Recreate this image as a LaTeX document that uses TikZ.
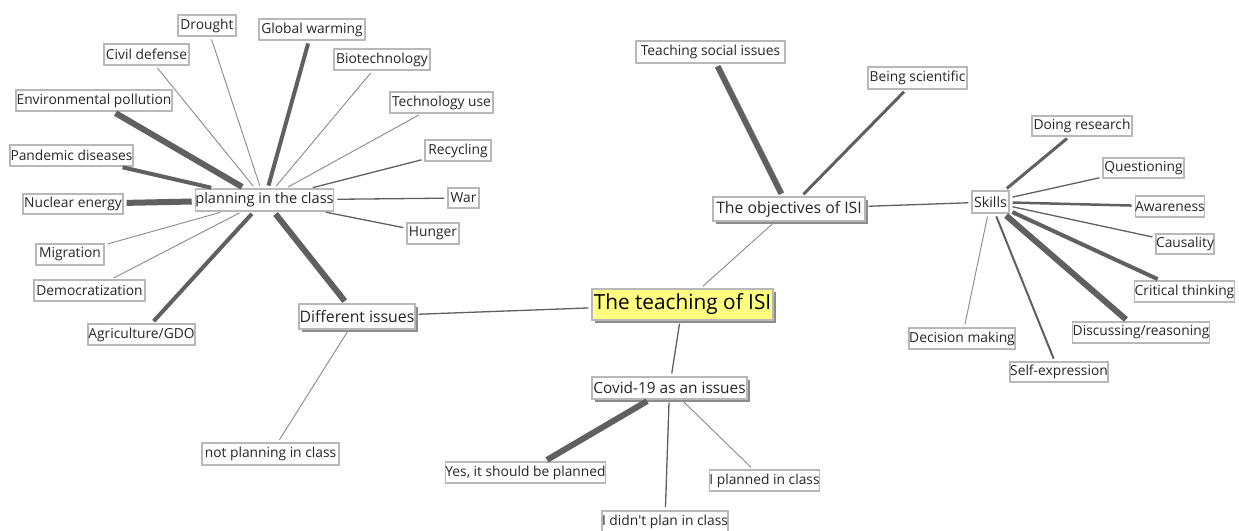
\documentclass[tikz,border=0pt]{standalone}
\usepackage{fontspec}
\setmainfont{Open Sans}
\usetikzlibrary{shadows}
\definecolor{edgec}{HTML}{606060}
\definecolor{thinc}{HTML}{8A8A8A}
\definecolor{boxc}{HTML}{B8B8B8}
\definecolor{rootc}{HTML}{FFFF80}
\tikzset{
  bx/.style 2 args={draw=boxc, line width=0.6pt, fill=white, inner sep=0pt,
     minimum width=#1*0.5pt, minimum height=#2*0.5pt, text=black!85,
     font=\fontsize{6.9}{8}\selectfont},
  sh/.style={drop shadow={shadow xshift=1.3pt, shadow yshift=-1.3pt, fill=black!45, opacity=1}},
  ln/.style={draw=edgec, line width=#1*0.5pt, shorten <=1.5pt, shorten >=1.5pt},
  thin/.style={draw=thinc, line width=0.45pt, shorten <=1.5pt, shorten >=1.5pt},
}
\begin{document}
\begin{tikzpicture}[x=0.5pt,y=-0.5pt]
\useasboundingbox[fill=white] (0,0) rectangle (1239,531);
% centre / hubs
\node[bx={181}{31}, sh, fill=rootc, font=\fontsize{10.4}{12}\selectfont, text=black] (root) at (682.5,304.5) {The teaching of ISI};
\node[bx={116}{25}, sh, font=\fontsize{7.9}{9}\selectfont] (diff) at (357,316.5) {Different issues};
\node[bx={152}{24}, sh, font=\fontsize{7.9}{9}\selectfont] (obj) at (789,209) {The objectives of ISI};
\node[bx={155}{22}, sh, font=\fontsize{7.7}{9}\selectfont] (cov) at (669.5,388) {Covid-19 as an issues};
\node[bx={135}{22}, font=\fontsize{7.3}{8}\selectfont] (plan) at (264.5,200) {planning in the class};
\node[bx={37}{22}, font=\fontsize{7.1}{8}\selectfont] (sk) at (990.5,202) {Skills};
% planning leaves
\node[bx={58}{21}] (dro) at (207,25.5) {Drought};
\node[bx={106}{21}] (glo) at (312,29.5) {Global warming};
\node[bx={85}{21}] (civ) at (146.5,54.5) {Civil defense};
\node[bx={96}{21}] (bio) at (382,59.5) {Biotechnology};
\node[bx={156}{21}] (env) at (94,100.5) {Environmental pollution};
\node[bx={103}{21}] (tec) at (441.5,102.5) {Technology use};
\node[bx={66}{21}] (rec) at (458,150.5) {Recycling};
\node[bx={123}{21}] (pan) at (71.5,155.5) {Pandemic diseases};
\node[bx={31}{20}] (war) at (463.5,198) {War};
\node[bx={100}{20}] (nuc) at (73,204) {Nuclear energy};
\node[bx={52}{21}] (hun) at (433,233.5) {Hunger};
\node[bx={68}{21}] (mig) at (70,254.5) {Migration};
\node[bx={111}{21}] (dem) at (89.5,290.5) {Democratization};
\node[bx={107}{21}] (agr) at (141.5,334.5) {Agriculture/GDO};
\node[bx={137}{22}] (npl) at (270.5,454) {not planning in class};
% covid leaves
\node[bx={159}{21}] (yes) at (525.5,472.5) {Yes, it should be planned};
\node[bx={109}{21}] (ipl) at (764.5,480.5) {I planned in class};
\node[bx={124}{21}] (idp) at (665,521.5) {I didn\textquotesingle t plan in class};
% objectives leaves
\node[bx={149}{22}] (tsi) at (710.5,52) {Teaching social issues};
\node[bx={99}{22}] (bsc) at (917.5,78) {Being scientific};
% skills leaves
\node[bx={100}{20}] (dor) at (1082,126) {Doing research};
\node[bx={81}{20}] (que) at (1143.5,168) {Questioning};
\node[bx={68}{21}] (awa) at (1170,206.5) {Awareness};
\node[bx={58}{20}] (cau) at (1185,244) {Causality};
\node[bx={97}{21}] (cri) at (1184.5,291.5) {Critical thinking};
\node[bx={134}{21}] (dis) at (1141,332.5) {Discussing/reasoning};
\node[bx={106}{21}] (dec) at (962,338.5) {Decision making};
\node[bx={98}{20}] (sel) at (1059,372) {Self-expression};
% edges
\draw[thin] (plan) -- (dro);
\draw[ln=4] (plan) -- (glo);
\draw[thin] (plan) -- (civ);
\draw[thin] (plan) -- (bio);
\draw[ln=6] (plan) -- (env);
\draw[thin] (plan) -- (tec);
\draw[ln=1.3] (plan) -- (rec);
\draw[ln=4] (plan) -- (pan);
\draw[ln=1.3] (plan) -- (war);
\draw[ln=6] (plan) -- (nuc);
\draw[ln=1.3] (plan) -- (hun);
\draw[thin] (plan) -- (mig);
\draw[thin] (plan) -- (dem);
\draw[ln=4] (plan) -- (agr);
\draw[ln=6] (plan) -- (diff);
\draw[thin] (diff) -- (npl);
\draw[ln=1.3] (diff) -- (root);
\draw[thin] (root) -- (obj);
\draw[ln=1.3] (root) -- (cov);
\draw[ln=6] (cov) -- (yes);
\draw[thin] (cov) -- (ipl);
\draw[ln=1.3] (cov) -- (idp);
\draw[ln=6] (obj) -- (tsi);
\draw[ln=3] (obj) -- (bsc);
\draw[ln=1.3] (obj) -- (sk);
\draw[ln=3] (sk) -- (dor);
\draw[ln=1.3] (sk) -- (que);
\draw[ln=2.5] (sk) -- (awa);
\draw[ln=1.3] (sk) -- (cau);
\draw[ln=4] (sk) -- (cri);
\draw[ln=6] (sk) -- (dis);
\draw[thin] (sk) -- (dec);
\draw[ln=2] (sk) -- (sel);
\end{tikzpicture}
\end{document}
